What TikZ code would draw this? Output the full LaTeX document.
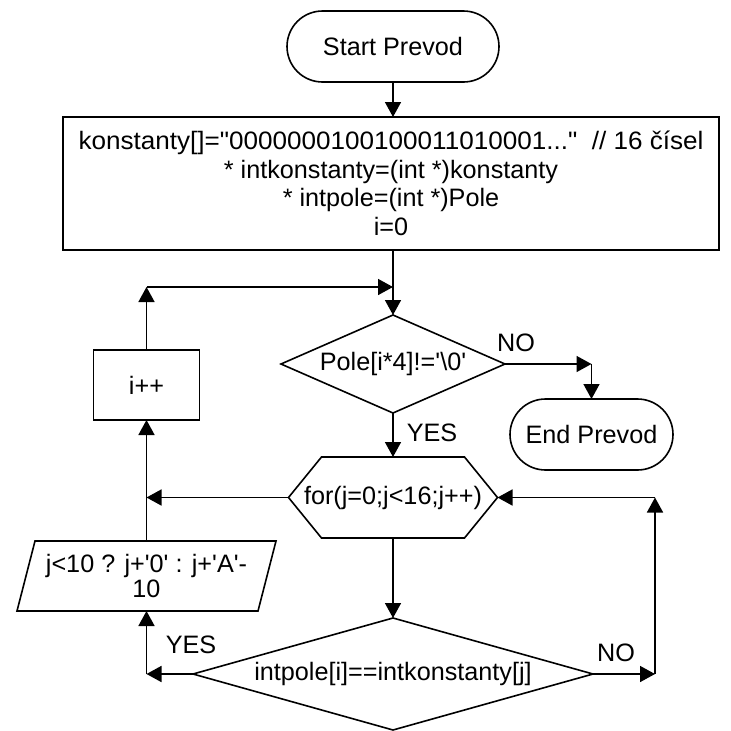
\documentclass[tikz,border=0pt]{standalone}
\usepackage{fontspec}
\usepackage{graphicx}
\setmainfont{Liberation Sans}[Ligatures=TeXOff]
\usetikzlibrary{arrows.meta,calc}
\begin{document}
\begin{tikzpicture}[x=1pt,y=-1pt,line width=1.6pt,
  every node/.style={font=\fontsize{25.2}{28.5}\selectfont,inner sep=0pt,outer sep=0pt,align=center},
  arr/.style={-{Triangle[length=15pt,width=16pt]}},
  term/.style={draw,rounded corners=35.5pt,minimum width=#1,minimum height=71pt},
  proc/.style={draw},
  shapebox/.style={}]
\useasboundingbox[fill=white] (0,0) rectangle (731,731);

\node[term=212pt] (start) at (393,46.5) {Start Prevod};
\node[proc,minimum width=656pt,minimum height=133pt] (init) at (391,183.5)
  {\scalebox{1.035}[1]{konstanty[]="0000000100100011010001..."\ \ // 16 čísel}\\{}* intkonstanty=(int *)konstanty\\{}* intpole=(int *)Pole\\i=0};

\node[shapebox,minimum width=224pt,minimum height=98pt] (d1) at (393,364) {Pole[i*4]!='\textbackslash 0'};
\draw (d1.north) -- (d1.east) -- (d1.south) -- (d1.west) -- cycle;

\node[proc,minimum width=106pt,minimum height=70pt] (ipp) at (146.5,385) {i++};
\node[term=163pt] (end) at (591.5,434.5) {End Prevod};

\node[shapebox,minimum width=209pt,minimum height=81pt] (hx) at (393,497.5) {for(j=0;j<16;j++)};
\draw (hx.west) -- ($(hx.north west)+(33,0)$) -- ($(hx.north east)+(-33,0)$) -- (hx.east)
  -- ($(hx.south east)+(-33,0)$) -- ($(hx.south west)+(33,0)$) -- cycle;

\node[shapebox,minimum width=259pt,minimum height=70pt,font=\fontsize{25.2}{25}\selectfont] (par) at (146.5,576) {j<10 ? j+'0' : j+'A'-\\10};
\draw ($(par.north west)+(18,0)$) -- (par.north east) -- ($(par.south east)+(-18,0)$) -- (par.south west) -- cycle;

\node[shapebox,minimum width=400pt,minimum height=112pt] (d2) at (393,674) {intpole[i]==intkonstanty[j]};
\draw (d2.north) -- (d2.east) -- (d2.south) -- (d2.west) -- cycle;

% labels
\node (no1) at (516,343) {NO};
\node (yes1) at (432,433) {YES};
\node (yes2) at (191,645) {YES};
\node (no2) at (616,653) {NO};

% connectors
\draw[arr] (start.south) -- (start.south |- init.north);
\coordinate (j1) at (393,287);
\draw[arr] (init.south -| d1.north) -- (d1.north);
\coordinate (c1) at (ipp.north |- j1);
\draw[arr] (ipp.north) -- (c1);
\draw[arr] (c1) -- (j1);
\coordinate (c2) at (end.north |- d1.east);
\draw[arr] (d1.east) -- (c2);
\draw[arr] (c2) -- (end.north);
\draw[arr] (d1.south) -- (hx.north);
\coordinate (c3) at (ipp.south |- hx.west);
\draw[arr] (hx.west) -- (c3);
\draw[arr] (ipp.south |- par.north) -- (ipp.south);
\draw[arr] (hx.south) -- (d2.north);
\coordinate (c4) at (par.south |- d2.west);
\draw[arr] (d2.west) -- (c4);
\draw[arr] (c4) -- (par.south);
\coordinate (c5) at (655,674);
\coordinate (c6) at (655,497.5);
\draw[arr] (d2.east) -- (c5);
\draw[arr] (c5) -- (c6);
\draw[arr] (c6) -- (hx.east);
\end{tikzpicture}
\end{document}
